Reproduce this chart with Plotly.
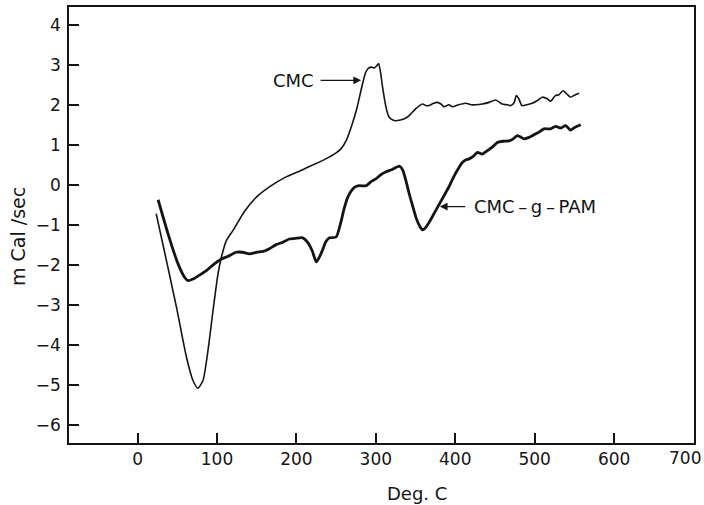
import plotly.graph_objects as go

# DSC traces: temperature (Deg. C) vs heat flow (m Cal/sec)
cmc_t = [23.5, 36.4, 49, 61.6, 69.8, 76, 82.4, 88.7, 95, 101.3, 105.5, 111.8, 120,
         135, 150, 166, 187, 208, 221, 237, 250, 256, 263, 270, 276, 283, 287,
         290, 294, 298, 301, 303.5, 306, 308.5, 312.8, 316, 319, 325, 331, 336,
         342, 350, 355, 359, 363, 367, 372, 377.6, 382, 386, 392, 396.5, 404, 413,
         420, 426, 434, 442.6, 451, 459, 465, 470, 474, 477, 480, 484, 490, 497,
         503, 509.5, 516, 520, 526, 530.5, 535.6, 540, 545, 550, 556]
cmc_q = [-0.72, -1.89, -3.05, -4.30, -4.88, -5.07, -4.88, -4.13, -3.14, -2.22, -1.81,
         -1.39, -1.14, -0.65, -0.30, -0.05, 0.20, 0.38, 0.50, 0.65, 0.80, 0.90, 1.12,
         1.50, 1.90, 2.50, 2.80, 2.90, 2.94, 2.92, 2.97, 3.03, 2.80, 2.44, 1.94, 1.72,
         1.65, 1.60, 1.62, 1.65, 1.73, 1.90, 1.98, 2.02, 1.98, 1.98, 2.03, 2.06, 2.02,
         1.95, 2.00, 1.95, 2.00, 2.04, 2.00, 2.00, 2.02, 2.06, 2.12, 2.02, 2.00, 1.98,
         2.05, 2.23, 2.15, 1.98, 2.00, 2.04, 2.10, 2.19, 2.15, 2.09, 2.23, 2.25, 2.35,
         2.28, 2.19, 2.24, 2.29]

pam_t = [25.9, 38.4, 51, 59.4, 63.6, 69.8, 78, 86.7, 96, 105.5, 114, 124, 132, 141,
         150, 158, 166, 174.6, 183, 191, 200, 208, 214, 220, 225, 229, 233, 237,
         241.6, 250, 256, 260, 264.6, 269, 273, 279, 287.7, 294, 300, 306, 312.8,
         320, 329.5, 333.7, 338, 342, 346, 350.5, 355, 358.8, 362, 365, 371, 377.6,
         385, 392, 398, 403, 409, 413, 417.5, 423, 428, 434, 440, 447, 453, 460,
         467.7, 473, 478, 482, 486.5, 492, 497, 504, 511.7, 516, 520, 526.4, 532.7,
         539, 545, 550, 558]
pam_q = [-0.37, -1.22, -1.97, -2.31, -2.39, -2.35, -2.25, -2.14, -1.98, -1.85, -1.78,
         -1.68, -1.68, -1.72, -1.68, -1.66, -1.59, -1.49, -1.43, -1.35, -1.33, -1.32,
         -1.43, -1.65, -1.92, -1.80, -1.62, -1.42, -1.32, -1.30, -0.93, -0.60, -0.31,
         -0.15, -0.06, -0.02, -0.02, 0.08, 0.15, 0.25, 0.33, 0.38, 0.47, 0.38, 0.10,
         -0.22, -0.50, -0.81, -1.02, -1.12, -1.08, -1.00, -0.80, -0.56, -0.30, -0.05,
         0.20, 0.38, 0.56, 0.62, 0.65, 0.72, 0.81, 0.77, 0.85, 0.95, 1.06, 1.09, 1.10,
         1.15, 1.23, 1.20, 1.15, 1.18, 1.23, 1.30, 1.40, 1.40, 1.40, 1.46, 1.42, 1.48,
         1.37, 1.43, 1.50]

x_ticks = [0, 100, 200, 300, 400, 500, 600, 700]
y_ticks = [-6, -5, -4, -3, -2, -1, 0, 1, 2, 3, 4]

INK = "#141414"
FONT = "DejaVu Sans"

W, H = 704, 505
L, R, T, B = 69, 10, 7, 62

fig = go.Figure()
fig.add_trace(go.Scatter(x=cmc_t, y=cmc_q, mode="lines", name="CMC",
                         line=dict(color=INK, width=1.6, shape="spline", smoothing=0.6)))
fig.add_trace(go.Scatter(x=pam_t, y=pam_q, mode="lines", name="CMC-g-PAM",
                         line=dict(color=INK, width=2.8, shape="spline", smoothing=0.6)))

axis_common = dict(showgrid=False, zeroline=False, showline=True, linecolor=INK,
                   linewidth=1.6, mirror=True, ticks="inside", ticklen=10,
                   tickwidth=1.5, tickcolor=INK, automargin=False,
                   tickfont=dict(family=FONT, size=17, color=INK))

# the last x label sits at the page edge, so it is drawn separately, pulled inward
x_ticktext = [str(v) for v in x_ticks[:-1]] + [""]
fig.update_xaxes(range=[-86.3, 700.6], tickvals=x_ticks, ticktext=x_ticktext,
                 **axis_common)
fig.update_yaxes(range=[-6.44, 4.44], tickvals=y_ticks, ticklabelstandoff=3,
                 **axis_common)

fig.update_layout(
    width=W, height=H,
    margin=dict(l=L, r=R, t=T, b=B),
    paper_bgcolor="white", plot_bgcolor="white",
    showlegend=False,
    font=dict(family=FONT, size=17, color=INK),
)

pw, ph = W - L - R, H - T - B


def paper_xy(px, py):
    """Convert page pixel position to paper coordinates."""
    return (px - L) / pw, 1 - (py - T) / ph


ex, ey = paper_xy(703, 458)
fig.add_annotation(text=str(x_ticks[-1]), x=ex, y=ey, xref="paper", yref="paper",
                   xanchor="right", yanchor="middle", showarrow=False,
                   font=dict(family=FONT, size=17, color=INK))

# axis titles
tx, ty = paper_xy(417, 493)
fig.add_annotation(text="Deg. C", x=tx, y=ty, xref="paper", yref="paper",
                   xanchor="center", yanchor="middle", showarrow=False,
                   font=dict(family=FONT, size=18, color=INK))
lx, ly = paper_xy(18, 236)
fig.add_annotation(text="m Cal /sec", x=lx, y=ly, xref="paper", yref="paper",
                   xanchor="center", yanchor="middle", textangle=-90,
                   showarrow=False, font=dict(family=FONT, size=19, color=INK))

# curve labels with pointer arrows
fig.add_annotation(text="CMC", x=225, y=2.60, xanchor="right", yanchor="middle",
                   showarrow=False, font=dict(family=FONT, size=18, color=INK))
fig.add_annotation(text="", x=281.5, y=2.61, ax=-42, ay=0, showarrow=True,
                   arrowhead=2, arrowsize=1.2, arrowwidth=1.3, arrowcolor=INK)
fig.add_annotation(text="CMC\u2009\u2013\u2009g\u2009\u2013\u2009PAM", x=421, y=-0.54,
                   xanchor="left", yanchor="middle", showarrow=False,
                   font=dict(family=FONT, size=18, color=INK))
fig.add_annotation(text="", x=380.5, y=-0.54, ax=27, ay=0, showarrow=True,
                   arrowhead=2, arrowsize=1.2, arrowwidth=1.3, arrowcolor=INK)

fig.write_html("out.html")
